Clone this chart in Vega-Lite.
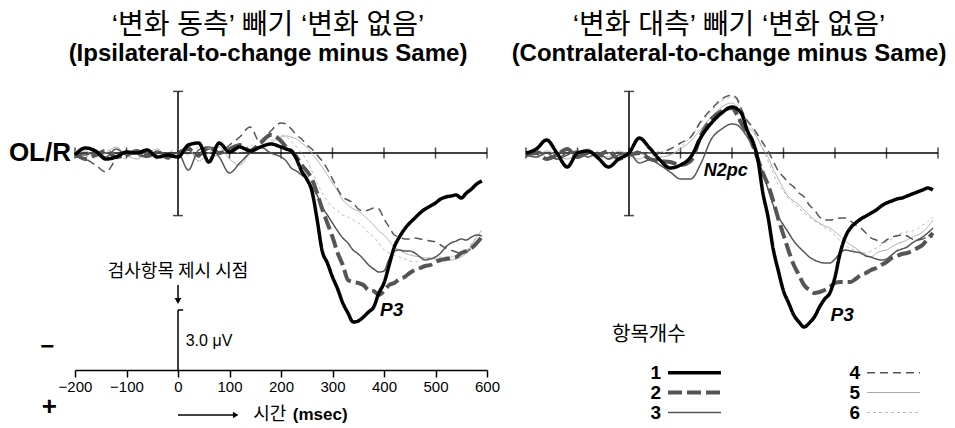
{
"$schema": "https://vega.github.io/schema/vega-lite/v6.json",
"background": "white",
"padding": {"left": 8, "top": 12, "right": 2, "bottom": 2},
"spacing": 39,
"bounds": "flush",
"config": {"view": {"stroke": null},
 "legend": {"symbolType": "stroke", "symbolSize": 2809, "labelAlign": "right", "labelOffset": -62, "labelFontSize": 19, "labelFontWeight": "bold", "labelFont": "Liberation Sans", "labelColor": "black", "columns": 2, "columnPadding": 120, "rowPadding": 0, "padding": 0}},
"resolve": {"scale": {"color": "shared", "strokeDash": "shared", "strokeWidth": "shared"}, "legend": {"color": "shared", "strokeDash": "shared", "strokeWidth": "shared"}},
"datasets": {
"ticks": [{"t":-200},{"t":-100},{"t":0},{"t":100},{"t":200},{"t":300},{"t":400},{"t":500},{"t":600}],
"bar": [{"uv":-3.08},{"uv":3.13}],
"ipsi": [
{"n":"6","t":-200,"uv":-0.1},{"n":"6","t":-180,"uv":0.2},{"n":"6","t":-160,"uv":0.0},{"n":"6","t":-140,"uv":-0.2},{"n":"6","t":-120,"uv":0.1},{"n":"6","t":-100,"uv":0.3},{"n":"6","t":-80,"uv":-0.1},{"n":"6","t":-60,"uv":0.1},{"n":"6","t":-40,"uv":0.3},{"n":"6","t":-20,"uv":0.0},{"n":"6","t":0,"uv":-0.2},{"n":"6","t":20,"uv":0.1},{"n":"6","t":40,"uv":-0.3},{"n":"6","t":60,"uv":0.2},{"n":"6","t":80,"uv":0.1},{"n":"6","t":100,"uv":-0.2},{"n":"6","t":120,"uv":0.0},{"n":"6","t":140,"uv":-0.4},{"n":"6","t":160,"uv":-0.2},{"n":"6","t":180,"uv":-0.6},{"n":"6","t":200,"uv":-0.9},
{"n":"6","t":210,"uv":-0.8},{"n":"6","t":220,"uv":-0.6},{"n":"6","t":230,"uv":-0.3},{"n":"6","t":240,"uv":0.0},{"n":"6","t":250,"uv":0.35},{"n":"6","t":260,"uv":0.9},{"n":"6","t":270,"uv":1.5},{"n":"6","t":280,"uv":2.0},{"n":"6","t":290,"uv":2.4},{"n":"6","t":300,"uv":2.7},{"n":"6","t":310,"uv":2.9},{"n":"6","t":320,"uv":3.1},{"n":"6","t":330,"uv":3.2},{"n":"6","t":340,"uv":3.35},{"n":"6","t":350,"uv":3.5},{"n":"6","t":360,"uv":3.7},{"n":"6","t":370,"uv":4.0},{"n":"6","t":380,"uv":4.2},{"n":"6","t":390,"uv":4.5},{"n":"6","t":400,"uv":4.85},{"n":"6","t":410,"uv":5.0},{"n":"6","t":420,"uv":5.1},{"n":"6","t":430,"uv":5.2},{"n":"6","t":440,"uv":5.3},{"n":"6","t":450,"uv":5.4},{"n":"6","t":460,"uv":5.45},{"n":"6","t":470,"uv":5.4},{"n":"6","t":480,"uv":5.3},{"n":"6","t":490,"uv":5.25},{"n":"6","t":500,"uv":5.2},{"n":"6","t":510,"uv":5.2},{"n":"6","t":520,"uv":5.2},{"n":"6","t":530,"uv":5.2},{"n":"6","t":540,"uv":5.2},{"n":"6","t":550,"uv":5.1},{"n":"6","t":560,"uv":4.9},{"n":"6","t":570,"uv":4.5},{"n":"6","t":580,"uv":4.2},{"n":"6","t":590,"uv":4.0},
{"n":"5","t":-200,"uv":0.1},{"n":"5","t":-180,"uv":-0.1},{"n":"5","t":-160,"uv":0.2},{"n":"5","t":-140,"uv":0.0},{"n":"5","t":-120,"uv":-0.3},{"n":"5","t":-100,"uv":0.1},{"n":"5","t":-80,"uv":0.3},{"n":"5","t":-60,"uv":0.0},{"n":"5","t":-40,"uv":-0.2},{"n":"5","t":-20,"uv":0.2},{"n":"5","t":0,"uv":0.1},{"n":"5","t":20,"uv":-0.2},{"n":"5","t":40,"uv":0.4},{"n":"5","t":60,"uv":0.0},{"n":"5","t":80,"uv":-0.3},{"n":"5","t":100,"uv":0.3},{"n":"5","t":120,"uv":0.6},{"n":"5","t":140,"uv":0.0},{"n":"5","t":160,"uv":-0.3},{"n":"5","t":180,"uv":-0.5},{"n":"5","t":200,"uv":-0.8},
{"n":"5","t":210,"uv":-0.85},{"n":"5","t":220,"uv":-0.8},{"n":"5","t":230,"uv":-0.7},{"n":"5","t":240,"uv":-0.5},{"n":"5","t":250,"uv":-0.3},{"n":"5","t":260,"uv":0.0},{"n":"5","t":270,"uv":0.35},{"n":"5","t":280,"uv":0.7},{"n":"5","t":290,"uv":1.1},{"n":"5","t":300,"uv":1.5},{"n":"5","t":310,"uv":1.9},{"n":"5","t":320,"uv":2.35},{"n":"5","t":330,"uv":2.6},{"n":"5","t":340,"uv":2.8},{"n":"5","t":350,"uv":2.9},{"n":"5","t":360,"uv":3.1},{"n":"5","t":370,"uv":3.35},{"n":"5","t":380,"uv":3.6},{"n":"5","t":390,"uv":3.9},{"n":"5","t":400,"uv":4.1},{"n":"5","t":410,"uv":4.4},{"n":"5","t":420,"uv":4.7},{"n":"5","t":430,"uv":4.85},{"n":"5","t":440,"uv":5.0},{"n":"5","t":450,"uv":5.1},{"n":"5","t":460,"uv":5.15},{"n":"5","t":470,"uv":5.2},{"n":"5","t":480,"uv":5.25},{"n":"5","t":490,"uv":5.25},{"n":"5","t":500,"uv":5.3},{"n":"5","t":510,"uv":5.3},{"n":"5","t":520,"uv":5.35},{"n":"5","t":530,"uv":5.35},{"n":"5","t":540,"uv":5.3},{"n":"5","t":550,"uv":5.2},{"n":"5","t":560,"uv":5.0},{"n":"5","t":570,"uv":4.6},{"n":"5","t":580,"uv":4.2},{"n":"5","t":590,"uv":3.85},
{"n":"4","t":-200,"uv":0.2},{"n":"4","t":-180,"uv":0.3},{"n":"4","t":-160,"uv":0.6},{"n":"4","t":-140,"uv":0.95},{"n":"4","t":-120,"uv":0.3},{"n":"4","t":-100,"uv":-0.1},{"n":"4","t":-80,"uv":0.1},{"n":"4","t":-60,"uv":0.2},{"n":"4","t":-40,"uv":0.0},{"n":"4","t":-20,"uv":0.3},{"n":"4","t":0,"uv":0.1},{"n":"4","t":20,"uv":-0.3},{"n":"4","t":40,"uv":0.2},{"n":"4","t":60,"uv":-0.2},{"n":"4","t":80,"uv":0.0},{"n":"4","t":100,"uv":-0.4},{"n":"4","t":120,"uv":-0.8},{"n":"4","t":140,"uv":-1.3},{"n":"4","t":160,"uv":-0.5},{"n":"4","t":180,"uv":-1.1},{"n":"4","t":200,"uv":-1.5},
{"n":"4","t":210,"uv":-1.45},{"n":"4","t":220,"uv":-1.2},{"n":"4","t":230,"uv":-0.9},{"n":"4","t":240,"uv":-0.7},{"n":"4","t":250,"uv":-0.4},{"n":"4","t":260,"uv":-0.2},{"n":"4","t":270,"uv":0.1},{"n":"4","t":280,"uv":0.4},{"n":"4","t":290,"uv":0.8},{"n":"4","t":300,"uv":1.3},{"n":"4","t":310,"uv":1.8},{"n":"4","t":320,"uv":2.2},{"n":"4","t":330,"uv":2.35},{"n":"4","t":340,"uv":2.5},{"n":"4","t":350,"uv":2.8},{"n":"4","t":360,"uv":2.9},{"n":"4","t":370,"uv":2.85},{"n":"4","t":380,"uv":2.75},{"n":"4","t":390,"uv":2.8},{"n":"4","t":400,"uv":3.3},{"n":"4","t":410,"uv":3.7},{"n":"4","t":420,"uv":4.1},{"n":"4","t":430,"uv":4.2},{"n":"4","t":440,"uv":4.3},{"n":"4","t":450,"uv":4.3},{"n":"4","t":460,"uv":4.25},{"n":"4","t":470,"uv":4.3},{"n":"4","t":480,"uv":4.35},{"n":"4","t":490,"uv":4.4},{"n":"4","t":500,"uv":4.45},{"n":"4","t":510,"uv":4.6},{"n":"4","t":520,"uv":4.75},{"n":"4","t":530,"uv":4.85},{"n":"4","t":540,"uv":4.95},{"n":"4","t":550,"uv":5.0},{"n":"4","t":560,"uv":4.95},{"n":"4","t":570,"uv":4.75},{"n":"4","t":580,"uv":4.5},{"n":"4","t":590,"uv":4.25},
{"n":"3","t":-200,"uv":0.0},{"n":"3","t":-180,"uv":0.1},{"n":"3","t":-160,"uv":-0.1},{"n":"3","t":-140,"uv":0.2},{"n":"3","t":-120,"uv":-0.2},{"n":"3","t":-100,"uv":0.1},{"n":"3","t":-80,"uv":0.0},{"n":"3","t":-60,"uv":0.2},{"n":"3","t":-40,"uv":-0.1},{"n":"3","t":-20,"uv":0.1},{"n":"3","t":0,"uv":0.0},{"n":"3","t":20,"uv":0.85},{"n":"3","t":40,"uv":-0.15},{"n":"3","t":60,"uv":-0.3},{"n":"3","t":80,"uv":0.2},{"n":"3","t":100,"uv":1.0},{"n":"3","t":120,"uv":0.5},{"n":"3","t":140,"uv":0.0},{"n":"3","t":160,"uv":-0.3},{"n":"3","t":180,"uv":0.0},{"n":"3","t":200,"uv":0.2},
{"n":"3","t":210,"uv":0.4},{"n":"3","t":220,"uv":0.75},{"n":"3","t":230,"uv":0.9},{"n":"3","t":240,"uv":1.1},{"n":"3","t":250,"uv":1.3},{"n":"3","t":260,"uv":1.7},{"n":"3","t":270,"uv":2.1},{"n":"3","t":280,"uv":2.7},{"n":"3","t":290,"uv":3.1},{"n":"3","t":300,"uv":3.5},{"n":"3","t":310,"uv":3.9},{"n":"3","t":320,"uv":4.25},{"n":"3","t":330,"uv":4.5},{"n":"3","t":340,"uv":4.85},{"n":"3","t":350,"uv":5.05},{"n":"3","t":360,"uv":5.3},{"n":"3","t":370,"uv":5.6},{"n":"3","t":380,"uv":5.8},{"n":"3","t":390,"uv":5.95},{"n":"3","t":400,"uv":5.9},{"n":"3","t":410,"uv":5.3},{"n":"3","t":420,"uv":4.9},{"n":"3","t":430,"uv":4.85},{"n":"3","t":440,"uv":4.9},{"n":"3","t":450,"uv":4.9},{"n":"3","t":460,"uv":5.0},{"n":"3","t":470,"uv":5.2},{"n":"3","t":480,"uv":5.35},{"n":"3","t":490,"uv":5.3},{"n":"3","t":500,"uv":5.2},{"n":"3","t":510,"uv":5.0},{"n":"3","t":520,"uv":4.7},{"n":"3","t":530,"uv":4.5},{"n":"3","t":540,"uv":4.4},{"n":"3","t":550,"uv":4.3},{"n":"3","t":560,"uv":4.35},{"n":"3","t":570,"uv":4.2},{"n":"3","t":580,"uv":4.1},{"n":"3","t":590,"uv":4.15},
{"n":"2","t":-200,"uv":0.0},{"n":"2","t":-180,"uv":0.3},{"n":"2","t":-160,"uv":0.1},{"n":"2","t":-140,"uv":-0.1},{"n":"2","t":-120,"uv":0.2},{"n":"2","t":-100,"uv":0.1},{"n":"2","t":-80,"uv":-0.1},{"n":"2","t":-60,"uv":0.15},{"n":"2","t":-40,"uv":0.0},{"n":"2","t":-20,"uv":0.2},{"n":"2","t":0,"uv":0.0},{"n":"2","t":20,"uv":-0.2},{"n":"2","t":40,"uv":0.1},{"n":"2","t":60,"uv":-0.3},{"n":"2","t":80,"uv":0.0},{"n":"2","t":100,"uv":-0.2},{"n":"2","t":120,"uv":-0.4},{"n":"2","t":140,"uv":-0.1},{"n":"2","t":160,"uv":-0.5},{"n":"2","t":180,"uv":-0.9},{"n":"2","t":200,"uv":-0.6},
{"n":"2","t":210,"uv":-0.3},{"n":"2","t":220,"uv":-0.1},{"n":"2","t":230,"uv":0.2},{"n":"2","t":240,"uv":0.6},{"n":"2","t":250,"uv":0.9},{"n":"2","t":260,"uv":1.3},{"n":"2","t":270,"uv":2.0},{"n":"2","t":280,"uv":2.8},{"n":"2","t":290,"uv":3.5},{"n":"2","t":300,"uv":4.2},{"n":"2","t":310,"uv":5.0},{"n":"2","t":320,"uv":5.6},{"n":"2","t":330,"uv":6.35},{"n":"2","t":340,"uv":6.45},{"n":"2","t":350,"uv":6.5},{"n":"2","t":360,"uv":6.6},{"n":"2","t":370,"uv":6.85},{"n":"2","t":380,"uv":6.9},{"n":"2","t":390,"uv":7.1},{"n":"2","t":400,"uv":6.9},{"n":"2","t":410,"uv":6.6},{"n":"2","t":420,"uv":6.5},{"n":"2","t":430,"uv":6.3},{"n":"2","t":440,"uv":6.2},{"n":"2","t":450,"uv":6.0},{"n":"2","t":460,"uv":5.85},{"n":"2","t":470,"uv":5.75},{"n":"2","t":480,"uv":5.65},{"n":"2","t":490,"uv":5.6},{"n":"2","t":500,"uv":5.45},{"n":"2","t":510,"uv":5.35},{"n":"2","t":520,"uv":5.3},{"n":"2","t":530,"uv":5.25},{"n":"2","t":540,"uv":5.2},{"n":"2","t":550,"uv":5.0},{"n":"2","t":560,"uv":4.9},{"n":"2","t":570,"uv":4.75},{"n":"2","t":580,"uv":4.5},{"n":"2","t":590,"uv":4.2},
{"n":"1","t":-200,"uv":0.1},{"n":"1","t":-180,"uv":-0.25},{"n":"1","t":-160,"uv":-0.1},{"n":"1","t":-140,"uv":0.3},{"n":"1","t":-120,"uv":0.2},{"n":"1","t":-100,"uv":-0.05},{"n":"1","t":-80,"uv":0.0},{"n":"1","t":-60,"uv":-0.15},{"n":"1","t":-40,"uv":0.2},{"n":"1","t":-20,"uv":0.1},{"n":"1","t":0,"uv":0.2},{"n":"1","t":20,"uv":-0.4},{"n":"1","t":40,"uv":-0.5},{"n":"1","t":60,"uv":0.45},{"n":"1","t":80,"uv":-0.5},{"n":"1","t":100,"uv":-0.05},{"n":"1","t":120,"uv":-0.3},{"n":"1","t":140,"uv":-0.1},{"n":"1","t":160,"uv":-0.3},{"n":"1","t":180,"uv":-0.45},{"n":"1","t":200,"uv":-0.3},
{"n":"1","t":210,"uv":-0.2},{"n":"1","t":220,"uv":-0.1},{"n":"1","t":230,"uv":0.3},{"n":"1","t":240,"uv":0.9},{"n":"1","t":250,"uv":1.3},{"n":"1","t":260,"uv":1.9},{"n":"1","t":270,"uv":3.3},{"n":"1","t":280,"uv":4.9},{"n":"1","t":290,"uv":5.5},{"n":"1","t":300,"uv":6.2},{"n":"1","t":310,"uv":6.8},{"n":"1","t":320,"uv":7.5},{"n":"1","t":330,"uv":8.0},{"n":"1","t":340,"uv":8.45},{"n":"1","t":350,"uv":8.4},{"n":"1","t":360,"uv":8.2},{"n":"1","t":370,"uv":7.95},{"n":"1","t":380,"uv":7.7},{"n":"1","t":390,"uv":7.0},{"n":"1","t":400,"uv":6.5},{"n":"1","t":410,"uv":5.6},{"n":"1","t":420,"uv":4.7},{"n":"1","t":430,"uv":4.2},{"n":"1","t":440,"uv":3.8},{"n":"1","t":450,"uv":3.5},{"n":"1","t":460,"uv":3.25},{"n":"1","t":470,"uv":3.0},{"n":"1","t":480,"uv":2.8},{"n":"1","t":490,"uv":2.65},{"n":"1","t":500,"uv":2.5},{"n":"1","t":510,"uv":2.3},{"n":"1","t":520,"uv":2.2},{"n":"1","t":530,"uv":2.15},{"n":"1","t":540,"uv":2.1},{"n":"1","t":550,"uv":2.25},{"n":"1","t":560,"uv":2.0},{"n":"1","t":570,"uv":1.8},{"n":"1","t":580,"uv":1.55},{"n":"1","t":590,"uv":1.4}
],
"contra": [
{"n":"6","t":-200,"uv":0.1},{"n":"6","t":-180,"uv":-0.1},{"n":"6","t":-160,"uv":0.2},{"n":"6","t":-140,"uv":0.0},{"n":"6","t":-120,"uv":-0.2},{"n":"6","t":-100,"uv":0.1},{"n":"6","t":-80,"uv":0.2},{"n":"6","t":-60,"uv":-0.1},{"n":"6","t":-40,"uv":0.0},{"n":"6","t":-20,"uv":0.2},{"n":"6","t":0,"uv":-0.1},{"n":"6","t":20,"uv":0.0},{"n":"6","t":40,"uv":0.2},{"n":"6","t":60,"uv":-0.1},{"n":"6","t":80,"uv":0.1},{"n":"6","t":100,"uv":-0.3},{"n":"6","t":120,"uv":-0.8},{"n":"6","t":140,"uv":-1.5},{"n":"6","t":160,"uv":-2.1},{"n":"6","t":180,"uv":-2.6},{"n":"6","t":200,"uv":-2.8},
{"n":"6","t":210,"uv":-2.6},{"n":"6","t":220,"uv":-2.1},{"n":"6","t":230,"uv":-1.6},{"n":"6","t":240,"uv":-1.2},{"n":"6","t":250,"uv":-0.7},{"n":"6","t":260,"uv":-0.2},{"n":"6","t":270,"uv":0.4},{"n":"6","t":280,"uv":1.0},{"n":"6","t":290,"uv":1.6},{"n":"6","t":300,"uv":1.9},{"n":"6","t":310,"uv":2.3},{"n":"6","t":320,"uv":2.5},{"n":"6","t":330,"uv":2.75},{"n":"6","t":340,"uv":3.0},{"n":"6","t":350,"uv":3.2},{"n":"6","t":360,"uv":3.4},{"n":"6","t":370,"uv":3.55},{"n":"6","t":380,"uv":3.75},{"n":"6","t":390,"uv":3.85},{"n":"6","t":400,"uv":4.1},{"n":"6","t":410,"uv":4.4},{"n":"6","t":420,"uv":4.6},{"n":"6","t":430,"uv":4.8},{"n":"6","t":440,"uv":4.85},{"n":"6","t":450,"uv":4.95},{"n":"6","t":460,"uv":5.0},{"n":"6","t":470,"uv":4.9},{"n":"6","t":480,"uv":4.75},{"n":"6","t":490,"uv":4.6},{"n":"6","t":500,"uv":4.45},{"n":"6","t":510,"uv":4.3},{"n":"6","t":520,"uv":4.1},{"n":"6","t":530,"uv":4.0},{"n":"6","t":540,"uv":3.95},{"n":"6","t":550,"uv":3.9},{"n":"6","t":560,"uv":3.8},{"n":"6","t":570,"uv":3.6},{"n":"6","t":580,"uv":3.45},{"n":"6","t":590,"uv":3.2},
{"n":"5","t":-200,"uv":0.0},{"n":"5","t":-180,"uv":0.2},{"n":"5","t":-160,"uv":-0.1},{"n":"5","t":-140,"uv":0.1},{"n":"5","t":-120,"uv":0.3},{"n":"5","t":-100,"uv":0.0},{"n":"5","t":-80,"uv":-0.2},{"n":"5","t":-60,"uv":0.1},{"n":"5","t":-40,"uv":0.2},{"n":"5","t":-20,"uv":-0.1},{"n":"5","t":0,"uv":0.1},{"n":"5","t":20,"uv":0.3},{"n":"5","t":40,"uv":0.0},{"n":"5","t":60,"uv":0.2},{"n":"5","t":80,"uv":0.1},{"n":"5","t":100,"uv":-0.2},{"n":"5","t":120,"uv":-0.6},{"n":"5","t":140,"uv":-1.2},{"n":"5","t":160,"uv":-1.8},{"n":"5","t":180,"uv":-2.3},{"n":"5","t":200,"uv":-2.5},
{"n":"5","t":210,"uv":-2.3},{"n":"5","t":220,"uv":-1.8},{"n":"5","t":230,"uv":-1.3},{"n":"5","t":240,"uv":-1.1},{"n":"5","t":250,"uv":-0.7},{"n":"5","t":260,"uv":-0.2},{"n":"5","t":270,"uv":0.2},{"n":"5","t":280,"uv":0.8},{"n":"5","t":290,"uv":1.3},{"n":"5","t":300,"uv":1.8},{"n":"5","t":310,"uv":2.2},{"n":"5","t":320,"uv":2.4},{"n":"5","t":330,"uv":2.6},{"n":"5","t":340,"uv":2.85},{"n":"5","t":350,"uv":3.1},{"n":"5","t":360,"uv":3.35},{"n":"5","t":370,"uv":3.5},{"n":"5","t":380,"uv":3.65},{"n":"5","t":390,"uv":3.75},{"n":"5","t":400,"uv":3.95},{"n":"5","t":410,"uv":4.15},{"n":"5","t":420,"uv":4.4},{"n":"5","t":430,"uv":4.6},{"n":"5","t":440,"uv":4.75},{"n":"5","t":450,"uv":4.95},{"n":"5","t":460,"uv":5.1},{"n":"5","t":470,"uv":5.2},{"n":"5","t":480,"uv":5.0},{"n":"5","t":490,"uv":4.9},{"n":"5","t":500,"uv":4.85},{"n":"5","t":510,"uv":4.7},{"n":"5","t":520,"uv":4.55},{"n":"5","t":530,"uv":4.45},{"n":"5","t":540,"uv":4.35},{"n":"5","t":550,"uv":4.2},{"n":"5","t":560,"uv":4.1},{"n":"5","t":570,"uv":3.95},{"n":"5","t":580,"uv":3.7},{"n":"5","t":590,"uv":3.35},
{"n":"4","t":-200,"uv":0.2},{"n":"4","t":-180,"uv":-0.1},{"n":"4","t":-160,"uv":0.1},{"n":"4","t":-140,"uv":0.3},{"n":"4","t":-120,"uv":0.0},{"n":"4","t":-100,"uv":0.2},{"n":"4","t":-80,"uv":-0.1},{"n":"4","t":-60,"uv":0.1},{"n":"4","t":-40,"uv":0.3},{"n":"4","t":-20,"uv":0.0},{"n":"4","t":0,"uv":0.1},{"n":"4","t":20,"uv":-0.1},{"n":"4","t":40,"uv":0.2},{"n":"4","t":60,"uv":0.0},{"n":"4","t":80,"uv":-0.2},{"n":"4","t":100,"uv":-0.5},{"n":"4","t":120,"uv":-0.8},{"n":"4","t":140,"uv":-1.6},{"n":"4","t":160,"uv":-2.2},{"n":"4","t":180,"uv":-2.7},{"n":"4","t":200,"uv":-2.9},
{"n":"4","t":210,"uv":-2.7},{"n":"4","t":220,"uv":-2.1},{"n":"4","t":230,"uv":-1.6},{"n":"4","t":240,"uv":-1.3},{"n":"4","t":250,"uv":-0.9},{"n":"4","t":260,"uv":-0.5},{"n":"4","t":270,"uv":-0.1},{"n":"4","t":280,"uv":0.4},{"n":"4","t":290,"uv":0.9},{"n":"4","t":300,"uv":1.2},{"n":"4","t":310,"uv":1.5},{"n":"4","t":320,"uv":1.7},{"n":"4","t":330,"uv":2.0},{"n":"4","t":340,"uv":2.2},{"n":"4","t":350,"uv":2.6},{"n":"4","t":360,"uv":2.85},{"n":"4","t":370,"uv":3.2},{"n":"4","t":380,"uv":3.35},{"n":"4","t":390,"uv":3.35},{"n":"4","t":400,"uv":3.3},{"n":"4","t":410,"uv":3.25},{"n":"4","t":420,"uv":3.25},{"n":"4","t":430,"uv":3.4},{"n":"4","t":440,"uv":3.6},{"n":"4","t":450,"uv":3.75},{"n":"4","t":460,"uv":4.0},{"n":"4","t":470,"uv":4.25},{"n":"4","t":480,"uv":4.35},{"n":"4","t":490,"uv":4.5},{"n":"4","t":500,"uv":4.35},{"n":"4","t":510,"uv":4.2},{"n":"4","t":520,"uv":4.15},{"n":"4","t":530,"uv":4.1},{"n":"4","t":540,"uv":4.15},{"n":"4","t":550,"uv":4.3},{"n":"4","t":560,"uv":4.35},{"n":"4","t":570,"uv":4.3},{"n":"4","t":580,"uv":4.2},{"n":"4","t":590,"uv":4.2},
{"n":"3","t":-200,"uv":0.1},{"n":"3","t":-180,"uv":0.2},{"n":"3","t":-160,"uv":0.0},{"n":"3","t":-140,"uv":0.3},{"n":"3","t":-120,"uv":0.1},{"n":"3","t":-100,"uv":-0.1},{"n":"3","t":-80,"uv":0.2},{"n":"3","t":-60,"uv":0.0},{"n":"3","t":-40,"uv":0.3},{"n":"3","t":-20,"uv":0.1},{"n":"3","t":0,"uv":0.0},{"n":"3","t":20,"uv":0.5},{"n":"3","t":40,"uv":0.35},{"n":"3","t":60,"uv":0.6},{"n":"3","t":80,"uv":0.95},{"n":"3","t":100,"uv":1.3},{"n":"3","t":120,"uv":1.3},{"n":"3","t":140,"uv":0.5},{"n":"3","t":160,"uv":-0.7},{"n":"3","t":180,"uv":-1.2},{"n":"3","t":200,"uv":-1.45},
{"n":"3","t":210,"uv":-1.4},{"n":"3","t":220,"uv":-1.15},{"n":"3","t":230,"uv":-0.8},{"n":"3","t":240,"uv":-0.4},{"n":"3","t":250,"uv":0.3},{"n":"3","t":260,"uv":1.0},{"n":"3","t":270,"uv":1.8},{"n":"3","t":280,"uv":2.6},{"n":"3","t":290,"uv":3.2},{"n":"3","t":300,"uv":3.6},{"n":"3","t":310,"uv":4.0},{"n":"3","t":320,"uv":4.4},{"n":"3","t":330,"uv":4.7},{"n":"3","t":340,"uv":4.95},{"n":"3","t":350,"uv":5.2},{"n":"3","t":360,"uv":5.35},{"n":"3","t":370,"uv":5.45},{"n":"3","t":380,"uv":5.5},{"n":"3","t":390,"uv":5.5},{"n":"3","t":400,"uv":5.3},{"n":"3","t":410,"uv":5.0},{"n":"3","t":420,"uv":4.85},{"n":"3","t":430,"uv":4.9},{"n":"3","t":440,"uv":4.95},{"n":"3","t":450,"uv":5.0},{"n":"3","t":460,"uv":5.15},{"n":"3","t":470,"uv":5.2},{"n":"3","t":480,"uv":5.3},{"n":"3","t":490,"uv":5.35},{"n":"3","t":500,"uv":5.3},{"n":"3","t":510,"uv":5.1},{"n":"3","t":520,"uv":4.9},{"n":"3","t":530,"uv":4.8},{"n":"3","t":540,"uv":4.7},{"n":"3","t":550,"uv":4.5},{"n":"3","t":560,"uv":4.35},{"n":"3","t":570,"uv":4.2},{"n":"3","t":580,"uv":4.0},{"n":"3","t":590,"uv":3.75},
{"n":"2","t":-200,"uv":0.1},{"n":"2","t":-180,"uv":0.0},{"n":"2","t":-160,"uv":0.3},{"n":"2","t":-140,"uv":0.1},{"n":"2","t":-120,"uv":-0.2},{"n":"2","t":-100,"uv":0.2},{"n":"2","t":-80,"uv":0.0},{"n":"2","t":-60,"uv":0.1},{"n":"2","t":-40,"uv":-0.1},{"n":"2","t":-20,"uv":0.3},{"n":"2","t":0,"uv":0.1},{"n":"2","t":20,"uv":0.0},{"n":"2","t":40,"uv":0.3},{"n":"2","t":60,"uv":0.4},{"n":"2","t":80,"uv":0.45},{"n":"2","t":100,"uv":0.6},{"n":"2","t":120,"uv":0.4},{"n":"2","t":140,"uv":-0.9},{"n":"2","t":160,"uv":-1.7},{"n":"2","t":180,"uv":-2.1},{"n":"2","t":200,"uv":-2.25},
{"n":"2","t":210,"uv":-1.9},{"n":"2","t":220,"uv":-1.4},{"n":"2","t":230,"uv":-1.0},{"n":"2","t":240,"uv":-0.4},{"n":"2","t":250,"uv":0.3},{"n":"2","t":260,"uv":1.0},{"n":"2","t":270,"uv":1.6},{"n":"2","t":280,"uv":2.4},{"n":"2","t":290,"uv":3.3},{"n":"2","t":300,"uv":4.1},{"n":"2","t":310,"uv":4.9},{"n":"2","t":320,"uv":5.6},{"n":"2","t":330,"uv":6.1},{"n":"2","t":340,"uv":6.6},{"n":"2","t":350,"uv":6.85},{"n":"2","t":360,"uv":7.0},{"n":"2","t":370,"uv":6.95},{"n":"2","t":380,"uv":6.85},{"n":"2","t":390,"uv":6.7},{"n":"2","t":400,"uv":6.5},{"n":"2","t":410,"uv":6.45},{"n":"2","t":420,"uv":6.45},{"n":"2","t":430,"uv":6.45},{"n":"2","t":440,"uv":6.3},{"n":"2","t":450,"uv":6.1},{"n":"2","t":460,"uv":6.0},{"n":"2","t":470,"uv":5.85},{"n":"2","t":480,"uv":5.75},{"n":"2","t":490,"uv":5.6},{"n":"2","t":500,"uv":5.45},{"n":"2","t":510,"uv":5.25},{"n":"2","t":520,"uv":5.15},{"n":"2","t":530,"uv":5.05},{"n":"2","t":540,"uv":5.0},{"n":"2","t":550,"uv":4.9},{"n":"2","t":560,"uv":4.75},{"n":"2","t":570,"uv":4.6},{"n":"2","t":580,"uv":4.3},{"n":"2","t":590,"uv":4.0},
{"n":"1","t":-200,"uv":0.0},{"n":"1","t":-180,"uv":-0.2},{"n":"1","t":-160,"uv":-0.65},{"n":"1","t":-140,"uv":0.0},{"n":"1","t":-120,"uv":0.7},{"n":"1","t":-100,"uv":0.0},{"n":"1","t":-80,"uv":-0.1},{"n":"1","t":-60,"uv":0.25},{"n":"1","t":-40,"uv":0.7},{"n":"1","t":-20,"uv":0.3},{"n":"1","t":0,"uv":0.0},{"n":"1","t":20,"uv":-0.75},{"n":"1","t":40,"uv":-0.25},{"n":"1","t":60,"uv":0.35},{"n":"1","t":80,"uv":0.75},{"n":"1","t":100,"uv":0.6},{"n":"1","t":120,"uv":0.2},{"n":"1","t":140,"uv":-0.8},{"n":"1","t":160,"uv":-1.5},{"n":"1","t":180,"uv":-2.0},{"n":"1","t":200,"uv":-2.3},
{"n":"1","t":210,"uv":-2.2},{"n":"1","t":220,"uv":-1.9},{"n":"1","t":230,"uv":-1.1},{"n":"1","t":240,"uv":-0.6},{"n":"1","t":250,"uv":0.3},{"n":"1","t":260,"uv":2.0},{"n":"1","t":270,"uv":3.2},{"n":"1","t":280,"uv":4.8},{"n":"1","t":290,"uv":5.9},{"n":"1","t":300,"uv":6.9},{"n":"1","t":310,"uv":7.5},{"n":"1","t":320,"uv":8.1},{"n":"1","t":330,"uv":8.45},{"n":"1","t":340,"uv":8.7},{"n":"1","t":350,"uv":8.5},{"n":"1","t":360,"uv":8.2},{"n":"1","t":370,"uv":7.7},{"n":"1","t":380,"uv":7.3},{"n":"1","t":390,"uv":7.0},{"n":"1","t":400,"uv":6.2},{"n":"1","t":410,"uv":5.0},{"n":"1","t":420,"uv":4.2},{"n":"1","t":430,"uv":3.75},{"n":"1","t":440,"uv":3.5},{"n":"1","t":450,"uv":3.3},{"n":"1","t":460,"uv":3.15},{"n":"1","t":470,"uv":3.0},{"n":"1","t":480,"uv":2.85},{"n":"1","t":490,"uv":2.65},{"n":"1","t":500,"uv":2.5},{"n":"1","t":510,"uv":2.4},{"n":"1","t":520,"uv":2.3},{"n":"1","t":530,"uv":2.25},{"n":"1","t":540,"uv":2.15},{"n":"1","t":550,"uv":2.05},{"n":"1","t":560,"uv":1.95},{"n":"1","t":570,"uv":1.85},{"n":"1","t":580,"uv":1.75},{"n":"1","t":590,"uv":1.85}
]
},
"hconcat": [
{
"width": 412, "height": 290,
"title": {"text": "‘변화 동측’ 빼기 ‘변화 없음’", "subtitle": "(Ipsilateral-to-change minus Same)", "font": "Liberation Sans, Noto Sans CJK KR", "fontSize": 28, "fontWeight": "normal", "color": "black", "subtitleFont": "Liberation Sans", "subtitleFontSize": 24, "subtitleFontWeight": "bold", "subtitleColor": "black", "subtitlePadding": 2, "offset": 14, "anchor": "middle", "dx": -13},
"layer": [
{"data": {"values": [{}]}, "mark": {"type": "rule", "color": "black", "strokeWidth": 1.5},
 "encoding": {"x": {"datum": -200, "type": "quantitative"}, "x2": {"datum": 600}, "y": {"datum": 0, "type": "quantitative", "axis": null}}},
{"data": {"name": "ticks"}, "mark": {"type": "tick", "orient": "vertical", "color": "black", "size": 11, "thickness": 1.5},
 "encoding": {"x": {"field": "t", "type": "quantitative"}, "y": {"datum": 0, "type": "quantitative", "axis": null}}},
{"data": {"values": [{}]}, "mark": {"type": "rule", "color": "black", "strokeWidth": 1.5},
 "encoding": {"x": {"datum": 0, "type": "quantitative"}, "y": {"datum": -3.08, "type": "quantitative", "axis": null}, "y2": {"datum": 3.13}}},
{"data": {"name": "bar"}, "mark": {"type": "tick", "orient": "horizontal", "color": "black", "size": 10, "thickness": 1.5},
 "encoding": {"x": {"datum": 0, "type": "quantitative"}, "y": {"field": "uv", "type": "quantitative", "axis": null}}},
{"data": {"name": "ipsi"}, "mark": {"type": "line", "interpolate": "monotone", "strokeCap": "butt"},
 "encoding": {
  "x": {"field": "t", "type": "quantitative", "scale": {"domain": [-200, 600], "nice": false, "zero": false},
        "axis": {"values": [-200,-100,0,100,200,300,400,500,600], "format": "d", "title": null, "grid": false, "domainColor": "black", "domainWidth": 1.5, "tickColor": "black", "tickWidth": 1.5, "tickSize": 7, "labelFontSize": 15, "labelFont": "Liberation Sans", "labelColor": "black", "labelPadding": 2, "labelFlush": false, "labelOverlap": false}},
  "y": {"field": "uv", "type": "quantitative", "scale": {"domain": [-3.65, 10.85], "reverse": true, "nice": false, "zero": false}, "axis": null},
  "color": {"field": "n", "type": "nominal", "scale": {"domain": ["1","2","3","4","5","6"], "range": ["#000000","#555555","#555555","#555555","#aaaaaa","#bbbbbb"]}, "legend": {"title": null, "orient": "none", "legendX": 591, "legendY": 283, "encode": {"symbols": {"update": {"y": {"value": 9.5}}}, "labels": {"update": {"y": {"value": 9.5}}}}}},
  "strokeDash": {"field": "n", "type": "nominal", "scale": {"domain": ["1","2","3","4","5","6"], "range": [[1,0],[14,5],[1,0],[8,5],[1,0],[3,3]]}, "legend": {"title": null, "orient": "none", "legendX": 591, "legendY": 283, "encode": {"symbols": {"update": {"y": {"value": 9.5}}}, "labels": {"update": {"y": {"value": 9.5}}}}}},
  "strokeWidth": {"field": "n", "type": "nominal", "scale": {"type": "ordinal", "domain": ["1","2","3","4","5","6"], "range": [3.5,4,1.5,1.5,1,1]}, "legend": {"title": null, "orient": "none", "legendX": 591, "legendY": 283, "encode": {"symbols": {"update": {"y": {"value": 9.5}}}, "labels": {"update": {"y": {"value": 9.5}}}}}}
 }},
{"data": {"values": [{}]}, "mark": {"type": "text", "text": "OL/R", "align": "right", "baseline": "middle", "dx": -4, "font": "Liberation Sans", "fontSize": 26, "fontWeight": "bold", "color": "black"},
 "encoding": {"x": {"datum": -200, "type": "quantitative"}, "y": {"datum": 0, "type": "quantitative", "axis": null}}},
{"data": {"values": [{}]}, "mark": {"type": "rule", "color": "black", "strokeWidth": 1.5},
 "encoding": {"x": {"datum": 0, "type": "quantitative"}, "y": {"datum": 7.85, "type": "quantitative", "axis": null}, "y2": {"datum": 10.85}}},
{"data": {"values": [{}]}, "mark": {"type": "rule", "color": "black", "strokeWidth": 1.5},
 "encoding": {"x": {"datum": 0, "type": "quantitative"}, "x2": {"datum": 10}, "y": {"datum": 7.85, "type": "quantitative", "axis": null}}},
{"data": {"values": [{}]}, "mark": {"type": "text", "text": "3.0  μV", "align": "left", "baseline": "middle", "font": "Liberation Sans", "fontSize": 16, "color": "black"},
 "encoding": {"x": {"datum": 15, "type": "quantitative"}, "y": {"datum": 9.4, "type": "quantitative", "axis": null}}},
{"data": {"values": [{}]}, "mark": {"type": "rule", "color": "black", "strokeWidth": 1.5},
 "encoding": {"x": {"datum": 0, "type": "quantitative"}, "y": {"datum": 6.6, "type": "quantitative", "axis": null}, "y2": {"datum": 7.3}}},
{"data": {"values": [{}]}, "mark": {"type": "point", "shape": "triangle-down", "filled": true, "color": "black", "size": 45, "opacity": 1},
 "encoding": {"x": {"datum": 0, "type": "quantitative"}, "y": {"datum": 7.4, "type": "quantitative", "axis": null}}},
{"data": {"values": [{}]}, "mark": {"type": "text", "text": "검사항목 제시 시점", "align": "center", "baseline": "middle", "font": "Noto Sans CJK KR", "fontSize": 18, "color": "black"},
 "encoding": {"x": {"datum": 0, "type": "quantitative"}, "y": {"datum": 5.95, "type": "quantitative", "axis": null}}},
{"data": {"values": [{}]}, "mark": {"type": "text", "text": "−", "align": "center", "baseline": "middle", "font": "Liberation Sans", "fontSize": 24, "fontWeight": "bold", "color": "black"},
 "encoding": {"x": {"datum": -254, "type": "quantitative"}, "y": {"datum": 9.7, "type": "quantitative", "axis": null}}},
{"data": {"values": [{}]}, "mark": {"type": "text", "text": "+", "align": "center", "baseline": "middle", "font": "Liberation Sans", "fontSize": 26, "fontWeight": "bold", "color": "black"},
 "encoding": {"x": {"datum": -250, "type": "quantitative"}, "y": {"datum": 12.7, "type": "quantitative", "axis": null}}},
{"data": {"values": [{}]}, "mark": {"type": "rule", "color": "black", "strokeWidth": 1.3},
 "encoding": {"x": {"datum": 0, "type": "quantitative"}, "x2": {"datum": 108}, "y": {"datum": 13.1, "type": "quantitative", "axis": null}}},
{"data": {"values": [{}]}, "mark": {"type": "point", "shape": "triangle-right", "filled": true, "color": "black", "size": 40, "opacity": 1},
 "encoding": {"x": {"datum": 112, "type": "quantitative"}, "y": {"datum": 13.1, "type": "quantitative", "axis": null}}},
{"data": {"values": [{}]}, "mark": {"type": "text", "text": "시간", "align": "left", "baseline": "middle", "font": "Noto Sans CJK KR", "fontSize": 18, "color": "black"},
 "encoding": {"x": {"datum": 146, "type": "quantitative"}, "y": {"datum": 13.1, "type": "quantitative", "axis": null}}},
{"data": {"values": [{}]}, "mark": {"type": "text", "text": "(msec)", "align": "left", "baseline": "middle", "font": "Liberation Sans", "fontSize": 17, "fontWeight": "bold", "color": "black"},
 "encoding": {"x": {"datum": 223, "type": "quantitative"}, "y": {"datum": 13.1, "type": "quantitative", "axis": null}}},
{"data": {"values": [{}]}, "mark": {"type": "text", "text": "P3", "align": "center", "baseline": "middle", "font": "Liberation Sans", "fontSize": 19, "fontWeight": "bold", "fontStyle": "italic", "color": "black"},
 "encoding": {"x": {"datum": 415, "type": "quantitative"}, "y": {"datum": 7.85, "type": "quantitative", "axis": null}}}
]
},
{
"width": 412, "height": 290,
"title": {"text": "‘변화 대측’ 빼기 ‘변화 없음’", "subtitle": "(Contralateral-to-change minus Same)", "font": "Liberation Sans, Noto Sans CJK KR", "fontSize": 28, "fontWeight": "normal", "color": "black", "subtitleFont": "Liberation Sans", "subtitleFontSize": 24, "subtitleFontWeight": "bold", "subtitleColor": "black", "subtitlePadding": 2, "offset": 14, "anchor": "middle", "dx": -3},
"layer": [
{"data": {"values": [{}]}, "mark": {"type": "rule", "color": "black", "strokeWidth": 1.5},
 "encoding": {"x": {"datum": -200, "type": "quantitative", "axis": null}, "x2": {"datum": 600}, "y": {"datum": 0, "type": "quantitative", "axis": null}}},
{"data": {"name": "ticks"}, "mark": {"type": "tick", "orient": "vertical", "color": "black", "size": 11, "thickness": 1.5},
 "encoding": {"x": {"field": "t", "type": "quantitative", "axis": null}, "y": {"datum": 0, "type": "quantitative", "axis": null}}},
{"data": {"values": [{}]}, "mark": {"type": "rule", "color": "black", "strokeWidth": 1.5},
 "encoding": {"x": {"datum": 0, "type": "quantitative", "axis": null}, "y": {"datum": -3.08, "type": "quantitative", "axis": null}, "y2": {"datum": 3.13}}},
{"data": {"name": "bar"}, "mark": {"type": "tick", "orient": "horizontal", "color": "black", "size": 10, "thickness": 1.5},
 "encoding": {"x": {"datum": 0, "type": "quantitative", "axis": null}, "y": {"field": "uv", "type": "quantitative", "axis": null}}},
{"data": {"name": "contra"}, "mark": {"type": "line", "interpolate": "monotone", "strokeCap": "butt"},
 "encoding": {
  "x": {"field": "t", "type": "quantitative", "scale": {"domain": [-200, 600], "nice": false, "zero": false}, "axis": null},
  "y": {"field": "uv", "type": "quantitative", "scale": {"domain": [-3.65, 10.85], "reverse": true, "nice": false, "zero": false}, "axis": null},
  "color": {"field": "n", "type": "nominal", "scale": {"domain": ["1","2","3","4","5","6"], "range": ["#000000","#555555","#555555","#555555","#aaaaaa","#bbbbbb"]}, "legend": {"title": null, "orient": "none", "legendX": 591, "legendY": 283, "encode": {"symbols": {"update": {"y": {"value": 9.5}}}, "labels": {"update": {"y": {"value": 9.5}}}}}},
  "strokeDash": {"field": "n", "type": "nominal", "scale": {"domain": ["1","2","3","4","5","6"], "range": [[1,0],[14,5],[1,0],[8,5],[1,0],[3,3]]}, "legend": {"title": null, "orient": "none", "legendX": 591, "legendY": 283, "encode": {"symbols": {"update": {"y": {"value": 9.5}}}, "labels": {"update": {"y": {"value": 9.5}}}}}},
  "strokeWidth": {"field": "n", "type": "nominal", "scale": {"type": "ordinal", "domain": ["1","2","3","4","5","6"], "range": [3.5,4,1.5,1.5,1,1]}, "legend": {"title": null, "orient": "none", "legendX": 591, "legendY": 283, "encode": {"symbols": {"update": {"y": {"value": 9.5}}}, "labels": {"update": {"y": {"value": 9.5}}}}}}
 }},
{"data": {"values": [{}]}, "mark": {"type": "text", "text": "N2pc", "align": "center", "baseline": "middle", "font": "Liberation Sans", "fontSize": 18, "fontWeight": "bold", "fontStyle": "italic", "color": "black"},
 "encoding": {"x": {"datum": 188, "type": "quantitative", "axis": null}, "y": {"datum": 0.9, "type": "quantitative", "axis": null}}},
{"data": {"values": [{}]}, "mark": {"type": "text", "text": "P3", "align": "center", "baseline": "middle", "font": "Liberation Sans", "fontSize": 19, "fontWeight": "bold", "fontStyle": "italic", "color": "black"},
 "encoding": {"x": {"datum": 414, "type": "quantitative", "axis": null}, "y": {"datum": 8.1, "type": "quantitative", "axis": null}}},
{"data": {"values": [{}]}, "mark": {"type": "text", "text": "항목개수", "align": "left", "baseline": "middle", "font": "Noto Sans CJK KR", "fontSize": 20, "color": "black"},
 "encoding": {"x": {"datum": -33, "type": "quantitative", "axis": null}, "y": {"datum": 9.1, "type": "quantitative", "axis": null}}}
]
}
]
}
